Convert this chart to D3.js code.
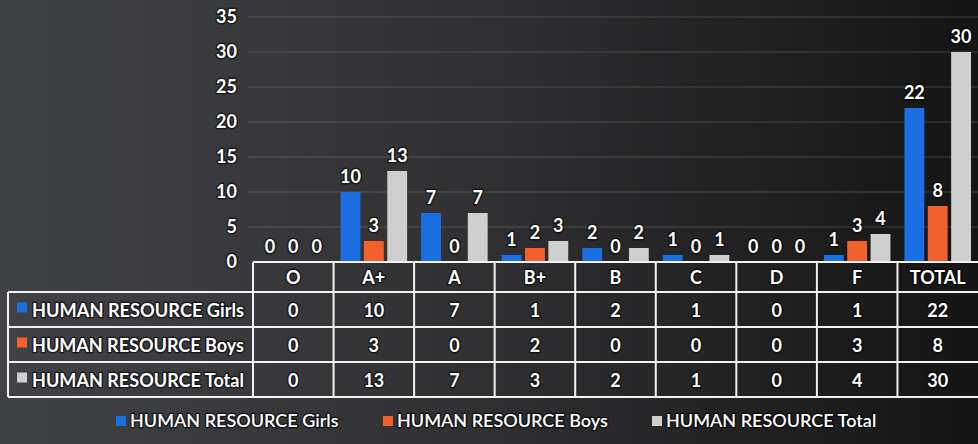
<!DOCTYPE html>
<html>
<head>
<meta charset="utf-8">
<script src="https://cdn.jsdelivr.net/npm/d3@7"></script>
<style>
  html, body { margin: 0; padding: 0; background: #1c1c1c; }
  svg { display: block; }
  text { font-family: Lato, "Open Sans", sans-serif; fill: #fff; stroke: #000; stroke-width: 3px; stroke-opacity: 0.55; paint-order: stroke; stroke-linejoin: round; }
</style>
</head>
<body>
<svg id="chart" width="978" height="444"></svg>
<script>
// Grade categories along the x axis
const categories = ["O", "A+", "A", "B+", "B", "C", "D", "F", "TOTAL"];
// Series names and values
const seriesNames = ["HUMAN RESOURCE Girls", "HUMAN RESOURCE Boys", "HUMAN RESOURCE Total"];
const girls = [0, 10, 7, 1, 2, 1, 0, 1, 22];
const boys  = [0, 3, 0, 2, 0, 0, 0, 3, 8];
const total = [0, 13, 7, 3, 2, 1, 0, 4, 30];
const yTicks = [0, 5, 10, 15, 20, 25, 30, 35];
const colors = ["#1b6fe0", "#f2612c", "#cfcfcf"];

const series = [girls, boys, total];

const W = 978, H = 444;
const svg = d3.select("#chart");

// Background: lighter grey on the left fading to near-black on the right
const defs = svg.append("defs");
const bg = defs.append("linearGradient").attr("id", "bg").attr("x1", 0).attr("x2", 1).attr("y1", 0).attr("y2", 0);
bg.append("stop").attr("offset", "0%").attr("stop-color", "#414245");
bg.append("stop").attr("offset", "45%").attr("stop-color", "#323235");
bg.append("stop").attr("offset", "100%").attr("stop-color", "#151515");
svg.append("rect").attr("width", W).attr("height", H).attr("fill", "url(#bg)");

const plotLeft = 253, plotRight = 978;
const x = d3.scaleBand().domain(categories).range([plotLeft, plotRight]).paddingInner(0).paddingOuter(0);
const xs = d3.scaleBand().domain(d3.range(series.length)).range([7, x.bandwidth() - 7]).paddingInner(0.15).paddingOuter(0);
const y = d3.scaleLinear().domain([0, 35]).range([262, 17]);

// Gridlines
svg.append("g")
  .selectAll("line")
  .data(yTicks.filter(t => t > 0))
  .join("line")
  .attr("x1", 248).attr("x2", plotRight)
  .attr("y1", d => y(d)).attr("y2", d => y(d))
  .attr("stroke", "#9a9a9a").attr("stroke-opacity", 0.3).attr("stroke-width", 1);

// Y axis tick labels
const yAxis = d3.axisLeft(y).tickValues(yTicks).tickSize(0).tickPadding(0);
const yg = svg.append("g").attr("transform", "translate(237,0)").call(yAxis);
yg.select(".domain").remove();
yg.selectAll("text")
  .attr("font-size", 18).attr("font-weight", 700)
  .style("font-family", "Lato, 'Open Sans', sans-serif").attr("fill", "#fff");

// Bars
const groups = svg.append("g").selectAll("g")
  .data(categories)
  .join("g")
  .attr("transform", d => `translate(${x(d)},0)`);

groups.selectAll("rect")
  .data((c, i) => series.map((s, k) => ({ k, v: s[i] })))
  .join("rect")
  .attr("x", d => xs(d.k))
  .attr("width", xs.bandwidth())
  .attr("y", d => y(d.v))
  .attr("height", d => y(0) - y(d.v))
  .attr("fill", d => colors[d.k]);

// Data labels above bars
groups.selectAll("text")
  .data((c, i) => series.map((s, k) => ({ k, v: s[i] })))
  .join("text")
  .attr("x", d => xs(d.k) + xs.bandwidth() / 2)
  .attr("y", d => y(d.v) - 9)
  .attr("text-anchor", "middle")
  .attr("font-size", 18).attr("font-weight", 700)
  .text(d => d.v);

// Data table below the plot
const table = svg.append("g").attr("stroke", "#f2f2f2").attr("stroke-width", 2).attr("fill", "none");
const headTop = 262, headBottom = 292, rowH = 35;
const tableBottom = headBottom + rowH * series.length;
const legendLeft = 8;

// Header row (categories only)
table.append("line").attr("x1", plotLeft).attr("x2", plotRight).attr("y1", headTop).attr("y2", headTop);
// Horizontal row lines
for (let r = 0; r <= series.length; r++) {
  const yy = headBottom + r * rowH;
  table.append("line").attr("x1", legendLeft).attr("x2", plotRight).attr("y1", yy).attr("y2", yy);
}
// Vertical lines
table.append("line").attr("x1", legendLeft).attr("x2", legendLeft).attr("y1", headBottom).attr("y2", tableBottom);
categories.forEach(c => {
  table.append("line").attr("x1", x(c)).attr("x2", x(c)).attr("y1", headTop).attr("y2", tableBottom);
});

// Header texts
svg.append("g").selectAll("text")
  .data(categories)
  .join("text")
  .attr("x", d => x(d) + x.bandwidth() / 2)
  .attr("y", (headTop + headBottom) / 2 + 7)
  .attr("text-anchor", "middle")
  .attr("font-size", 18).attr("font-weight", 700)
  .text(d => d);

// Table body rows
series.forEach((s, k) => {
  const cy = headBottom + k * rowH + rowH / 2 + 7;
  const row = svg.append("g");
  row.append("rect")
    .attr("x", 17).attr("y", cy - 14).attr("width", 10).attr("height", 10)
    .attr("fill", colors[k]);
  row.append("text")
    .attr("x", 32).attr("y", cy)
    .attr("font-size", 18).attr("font-weight", 700)
    .attr("textLength", 212).attr("lengthAdjust", "spacingAndGlyphs")
    .text(seriesNames[k]);
  row.selectAll("text.v")
    .data(s)
    .join("text")
    .attr("class", "v")
    .attr("x", (d, i) => x(categories[i]) + x.bandwidth() / 2)
    .attr("y", cy)
    .attr("text-anchor", "middle")
    .attr("font-size", 18).attr("font-weight", 700)
    .text(d => d);
});

// Legend at the bottom
const legendX = [116, 383, 652];
const legend = svg.append("g").selectAll("g")
  .data(seriesNames)
  .join("g")
  .attr("transform", (d, i) => `translate(${legendX[i]},427)`);
legend.append("rect").attr("x", 0).attr("y", -11).attr("width", 10).attr("height", 10)
  .attr("fill", (d, i) => colors[i]);
legend.append("text").attr("x", 14).attr("y", 0)
  .attr("font-size", 18).attr("font-weight", 600)
  .text(d => d);
</script>
</body>
</html>
